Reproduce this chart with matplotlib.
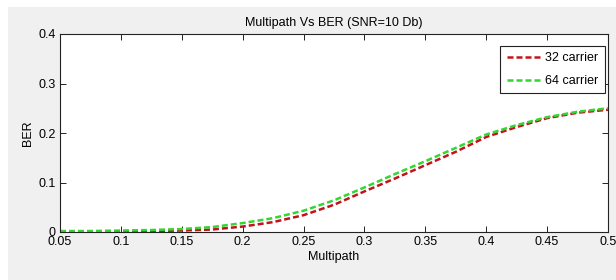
import numpy as np
import matplotlib
matplotlib.use("Agg")
import matplotlib.pyplot as plt
from matplotlib.patches import Rectangle

# data
multipath = [0.05, 0.075, 0.1, 0.125, 0.15, 0.175, 0.2, 0.225, 0.25, 0.275,
             0.3, 0.325, 0.35, 0.375, 0.4, 0.425, 0.45, 0.475, 0.5]
ber_32 = [0.000, 0.000, 0.001, 0.002, 0.003, 0.005, 0.011, 0.020, 0.034, 0.055,
          0.082, 0.108, 0.135, 0.162, 0.192, 0.212, 0.230, 0.241, 0.247]
ber_64 = [0.002, 0.002, 0.003, 0.004, 0.006, 0.010, 0.018, 0.028, 0.043, 0.064,
          0.090, 0.117, 0.143, 0.170, 0.197, 0.216, 0.232, 0.243, 0.250]
xticks = [0.05, 0.1, 0.15, 0.2, 0.25, 0.3, 0.35, 0.4, 0.45, 0.5]
xtick_labels = ["0.05", "0.1", "0.15", "0.2", "0.25", "0.3", "0.35", "0.4", "0.45", "0.5"]
yticks = [0, 0.1, 0.2, 0.3, 0.4]
ytick_labels = ["0", "0.1", "0.2", "0.3", "0.4"]

plt.rcParams['font.family'] = ['Liberation Sans', 'DejaVu Sans']
plt.rcParams['font.size'] = 9

fig = plt.figure(figsize=(6.16, 2.8), dpi=100)
fig.patch.set_facecolor('white')
# gray window area (white strip on the left and top)
fig.patches.append(Rectangle((8 / 616, 0), 1 - 8 / 616, (280 - 7) / 280,
                             transform=fig.transFigure, facecolor='#f0f0f0',
                             edgecolor='none', zorder=-10))

ax = fig.add_axes([60 / 616, 48 / 280, 548 / 616, 198 / 280])
ax.set_facecolor('white')

dash = (0, (2.4, 1.2))
ax.plot(multipath, ber_32, color='#c4121c', linestyle=dash, linewidth=1.8,
        label='32 carrier')
ax.plot(multipath, ber_64, color='#33d633', linestyle=dash, linewidth=1.8,
        label='64 carrier')

ax.set_xlim(0.05, 0.5)
ax.set_ylim(0, 0.4)
ax.set_xticks(xticks)
ax.set_xticklabels(xtick_labels)
ax.set_yticks(yticks)
ax.set_yticklabels(ytick_labels)
ax.tick_params(direction='in', top=True, right=True, length=4, width=0.6,
               labelsize=9, pad=3)
for s in ax.spines.values():
    s.set_linewidth(0.8)
    s.set_color('#222222')

ax.set_title("Multipath Vs BER (SNR=10 Db)", fontsize=9, pad=6)
ax.set_xlabel("Multipath", fontsize=9, labelpad=2)
ax.set_ylabel("BER", fontsize=9, labelpad=3)

leg = ax.legend(loc='upper right', bbox_to_anchor=(0.9945, 0.939), borderaxespad=0,
                fontsize=9, frameon=True, fancybox=False, framealpha=1,
                handlelength=2.7, handletextpad=0.4, labelspacing=0.85, borderpad=0.5)
leg.get_frame().set_edgecolor('#222222')
leg.get_frame().set_linewidth(0.8)

fig.savefig("out.png", dpi=100, facecolor=fig.get_facecolor())
